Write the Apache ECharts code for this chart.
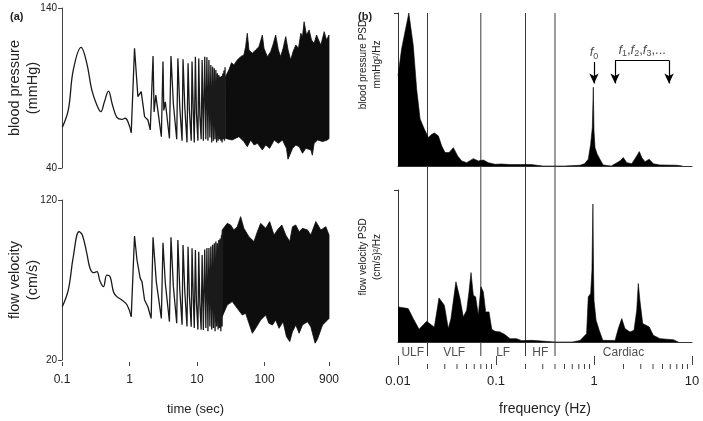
<!DOCTYPE html>
<html>
<head>
<meta charset="utf-8">
<script src="https://cdn.jsdelivr.net/npm/echarts@6.0.0/dist/echarts.min.js"></script>
<style>
  html, body { margin: 0; padding: 0; background: #fff; }
  #chart { width: 703px; height: 421px; }
</style>
</head>
<body>
<div id="chart"></div>
<script>
// (a) time traces, log time axis
// blood pressure, slow part before the beats
var bpSlowTime = [0.101,0.124,0.147,0.192,0.233,0.276,0.328,0.376,0.425,0.487,0.559,0.65,0.771,0.863,0.966,1.06];
var bpSlowValue = [65.4,76.3,101.3,115.4,105.4,88.8,79.4,75.2,81.4,88.1,79.4,71.7,70.4,71.1,68,62.1];
// blood pressure, single beats up to ~26 s
var bpTime = [1.06,1.186,1.33,1.49,1.67,1.87,2.03,
  2.23,2.31,2.45,2.96, 3.13,3.22,3.39,3.9, 4.11,4.46,5.0, 5.2,5.55,6.0, 6.2,6.6,7.1, 7.36,7.7,8.2, 8.43,8.8,9.1, 9.45,9.8,10.3,
  10.6,11.0,11.5, 11.9,12.4, 13,13.5, 14,14.5, 15,15.5, 16,16.5, 17,17.5, 18,18.5, 19,19.5, 20,20.5, 21,21.5, 22,22.5,
  23,23.5, 24,24.5, 25,25.5, 26];
var bpValue = [62.1,114.8,84.6,87.7,72.1,70,63.8,
  110,75,85.6,59.6, 106.5,76,81.4,58.5, 110,80,58, 108.5,78,57, 108,77,56, 105.4,76,57, 106.5,75,56, 109.6,74,57,
  108.5,73,58, 107.5,57, 109.6,58, 109.2,57, 107.5,59, 104.4,56, 103.3,57, 102.3,58, 101.3,56, 99.2,57, 98.1,58,
  97,57, 97.5,56, 99,58, 101,57, 103];
// blood pressure, envelope of the dense part
var bpUpperTime = [26.4,29.6,32.4,35.1,39.4,44.2,49.4,52.4,55.5,58.7,65.9,73.8,82.6,92.7,98,110,123,133,146,160,173,188,206,223,
  244,264,290,318,344,364,385,418,457,496,542,589,630,682,764,828,900];
var bpUpper = [97.1,101.3,105.8,104.4,107.5,109.6,110.6,115.8,124.2,113.8,111.7,113.8,115.8,123.1,114.8,109.6,112.7,116.9,123.1,113.8,
  109.6,114.8,122.1,113.8,107.5,112.7,116.9,114.8,124.2,122.1,131.4,123.1,126.3,120,117.9,123.1,120,116.9,125.2,120,123.1];
var bpLowerTime = [26.4,33,41.7,49.4,55.5,62.3,70,78.5,92.7,104,119,139,160,184,211,222,231,260,290,326,364,409,485,510,542,610,722,855,900];
var bpLower = [58.5,57.5,59.6,56.5,53.3,57.5,54.4,55.4,51.3,54.4,52.3,57.5,55.4,57.5,52.3,45.5,47.1,52.3,54.4,53.3,49.2,52.3,51.3,48,
  55.4,57.5,56.5,57.5,58.5];

// flow velocity, slow part before the beats
var fvSlowTime = [0.101,0.124,0.147,0.179,0.2,0.233,0.26,0.292,0.328,0.367,0.411,0.461,0.516,0.578,0.649,0.77,0.92,1.06];
var fvSlowValue = [53.3,63.8,84.6,100.2,98.1,86.7,77.3,74.6,75.2,69,65.8,73.1,72.1,62.7,59.6,57.5,54.4,47.1];
// flow velocity, single beats up to ~24 s
var fvTime = [1.06,1.186,1.29,1.44,1.53,1.67,1.87,2.09,
  2.23,2.49,2.96, 3.13,3.39,3.9, 4.11,4.46,5.0, 5.2,5.55,6.0, 6.2,6.6,7.1, 7.36,7.7,8.2, 8.43,8.8,9.1, 9.45,9.8,10.3,
  10.6,11.0,11.5, 11.9,12.4, 13,13.5, 14,14.5, 15,15.5, 16,16.5, 17,17.5, 18,18.5, 19,19.5, 20,20.5, 21,21.5, 22,22.5, 23,23.5, 24];
var fvValue = [47.1,97.5,82.5,71,69,57.5,53.3,46,
  96.7,69,46, 93.3,68,44, 96.7,66,43, 95,64,42, 91.9,62,41, 90.8,60,40.8, 89.8,58,40, 88.8,56,39,
  87.7,55,39, 85.6,38.8, 89,40, 90,38, 90,41, 91,39, 92,40, 93,38, 94,41, 93,39, 95,40, 96,38, 98,41, 100,40, 101];
var fvUpperTime = [23.6,28,31.4,35.1,39.4,44.2,49.4,58.7,69.7,78.2,87.5,104,119,138,155,180,206,236,259,290,325,364,432,484,574,682,809,900];
var fvUpper = [101.3,105.4,104.4,101.3,103.3,109.6,102.3,97.1,94,100.2,105.4,102.3,106.5,98.1,101.3,104.4,98.1,94,103.3,104.4,
  100.2,102.3,101.3,98.1,106.5,101.3,103.3,98.1];
var fvLowerTime = [18.8,23.6,28,33.2,39.4,46.8,52.4,58.7,65.9,73.8,87.5,104,116,131,146,164,188,211,236,259,290,325,364,432,484,560,608,722,857,900];
var fvLower = [43.9,47.1,54.4,56.5,52.3,48.1,49.2,42.9,36.7,39.8,45,48.1,42.9,41.9,45,39.8,43.9,34.6,31.5,37.7,41.9,36.7,41.9,43.9,
  40.8,30.5,33,41.9,45,46];

// (b) power spectra, log frequency axis
var psdBpFreq = [0.01,0.0109,0.0129,0.0143,0.0155,0.0168,0.0186,0.0204,0.0218,0.0235,0.0258,0.0279,0.0302,0.0332,0.0367,0.0406,0.0447,
  0.0502,0.0587,0.066,0.0742,0.0835,0.0977,0.114,0.139,0.169,0.23,0.3,0.5,0.72,0.8,0.874,0.925,0.961,0.984,1.0,1.024,1.08,1.15,1.24,
  1.5,1.84,1.99,2.16,2.43,2.73,2.9,3.07,3.31,3.66,4.03,4.71,6.98,8];
var psdBp = [59,76.8,100,79,50.4,30.7,24,18.6,20.5,21.5,19.7,13.2,8.8,8.8,12,6.6,3.3,2.2,4.8,3.3,3.9,2.2,1.1,1.3,0.9,0.9,0.9,0,0,0.5,
  1.5,4.4,14.3,25,51.5,23,12,7.7,4.4,0.7,0,3.3,5.5,2.2,1.5,6.6,9.4,5.5,2.8,4.4,1.5,0.7,0.5,0];
var psdFvFreq = [0.01,0.0127,0.0143,0.0164,0.0196,0.0221,0.0235,0.0262,0.0297,0.0326,0.0347,0.039,0.0429,0.0464,0.0502,0.053,0.0556,
  0.0587,0.062,0.066,0.0702,0.0742,0.0785,0.0849,0.0905,0.0977,0.11,0.123,0.139,0.162,0.183,0.23,0.316,0.4,0.6,0.72,0.84,0.874,
  0.925,0.953,0.975,0.99,1.0,1.05,1.13,1.23,1.64,1.77,1.92,2.07,2.33,2.56,2.73,2.83,2.94,3.14,3.4,3.66,4.03,4.71,6.45,7.25];
var psdFv = [23.1,22,15.4,8.4,13.6,11,9.9,29,24.2,8.8,15.4,39.6,28.6,16.5,20.9,33,45.7,30.8,29.7,17.6,36.3,33,19.8,19.8,8.4,7,6.6,
  4.9,2.2,2.2,0.9,1.1,0.5,0,0,1,5.5,29.7,31.9,47.3,90.8,45,27.5,14.3,7.7,1.1,1,8.8,15.4,8.8,6.6,7.7,20.9,38.5,27.5,12.1,11,9.9,
  4.4,2.2,1.5,0];

// band edges (Hz) and names
var bandEdges = [0.01, 0.02, 0.07, 0.2, 0.4, 10];
var bandNames = ['ULF', 'VLF', 'LF', 'HF', 'Cardiac'];

var FONT = "'Liberation Sans', Arial, Helvetica, sans-serif";
var INK = '#222';
var AXIS = '#444';

function zip(a, b) { return a.map(function (v, i) { return [v, b[i]]; }); }
function fmt(v) { return String(Number(v.toPrecision(3))); }

function traceSeries(idx, t, v, smooth) {
  return { type: 'line', xAxisIndex: idx, yAxisIndex: idx, data: zip(t, v), showSymbol: false, silent: true,
    smooth: smooth, lineStyle: { color: '#1a1a1a', width: 1.3 } };
}

// filled band between upper and lower envelope
function bandSeries(idx, upT, upV, loT, loV) {
  return {
    type: 'custom', xAxisIndex: idx, yAxisIndex: idx, silent: true,
    data: [[upT[0], upV[0]]],
    renderItem: function (params, api) {
      var pts = [];
      upT.forEach(function (t, i) { pts.push(api.coord([t, upV[i]])); });
      for (var i = loT.length - 1; i >= 0; i--) pts.push(api.coord([loT[i], loV[i]]));
      return { type: 'polygon', shape: { points: pts }, style: { fill: '#0d0d0d', stroke: '#0d0d0d', lineWidth: 0.8 } };
    }
  };
}

var minorTicks = [];
[0.01, 0.1, 1].forEach(function (d) { for (var k = 2; k <= 9; k++) minorTicks.push(+(d * k).toPrecision(2)); });

var chart = echarts.init(document.getElementById('chart'));

var option = {
  animation: false,
  textStyle: { fontFamily: FONT, color: INK },
  title: [
    { text: '(a)', left: 5, top: 6, textStyle: { fontFamily: FONT, fontSize: 11, fontWeight: 'bold', color: INK } },
    { text: '(b)', left: 353, top: 6, textStyle: { fontFamily: FONT, fontSize: 11, fontWeight: 'bold', color: INK } }
  ],
  grid: [
    { left: 62, top: 8, width: 267, height: 160 },
    { left: 62, top: 200, width: 267, height: 160 },
    { left: 398, top: 13, width: 294, height: 153 },
    { left: 398, top: 190, width: 294, height: 152 },
    { left: 398, top: 13, width: 294, height: 347 }
  ],
  xAxis: [
    { type: 'log', gridIndex: 0, min: 0.1, max: 900, show: false },
    { type: 'log', gridIndex: 1, min: 0.1, max: 900, offset: 2,
      axisLine: { show: false }, splitLine: { show: false },
      axisTick: { show: true, length: 4, lineStyle: { color: AXIS } },
      axisLabel: { fontSize: 12, margin: 12, color: INK, fontFamily: FONT, formatter: fmt },
      name: 'time (sec)', nameLocation: 'middle', nameGap: 41,
      nameTextStyle: { fontSize: 13, color: INK, fontFamily: FONT } },
    { type: 'log', gridIndex: 2, min: 0.01, max: 10,
      axisLine: { show: true, lineStyle: { color: '#333', width: 1 } },
      axisTick: { show: false }, axisLabel: { show: false }, splitLine: { show: false } },
    { type: 'log', gridIndex: 3, min: 0.01, max: 10,
      axisLine: { show: true, lineStyle: { color: '#333', width: 1 } },
      axisTick: { show: false }, axisLabel: { show: false }, splitLine: { show: false } },
    { type: 'log', gridIndex: 4, min: 0.01, max: 10, offset: 8,
      axisLine: { show: false }, splitLine: { show: false },
      axisTick: { show: true, length: 9, lineStyle: { color: AXIS } },
      axisLabel: { fontSize: 13, margin: 11, color: INK, fontFamily: FONT, formatter: fmt },
      name: 'frequency (Hz)', nameLocation: 'middle', nameGap: 38,
      nameTextStyle: { fontSize: 14, color: INK, fontFamily: FONT } }
  ],
  yAxis: [
    { type: 'value', gridIndex: 0, min: 40, max: 140, splitLine: { show: false },
      axisLine: { show: true, lineStyle: { color: AXIS } },
      axisTick: { show: true, length: 4, customValues: [40, 140], lineStyle: { color: AXIS } },
      axisLabel: { customValues: [40, 140], fontSize: 10, margin: 5, color: INK, fontFamily: FONT },
      name: 'blood pressure\n(mmHg)', nameLocation: 'middle', nameGap: 20, nameMoveOverlap: false,
      nameTextStyle: { fontSize: 14.5, lineHeight: 18, color: INK, fontFamily: FONT } },
    { type: 'value', gridIndex: 1, min: 20, max: 120, splitLine: { show: false },
      axisLine: { show: true, lineStyle: { color: AXIS } },
      axisTick: { show: true, length: 4, customValues: [20, 120], lineStyle: { color: AXIS } },
      axisLabel: { customValues: [20, 120], fontSize: 10, margin: 5, color: INK, fontFamily: FONT },
      name: 'flow velocity\n(cm/s)', nameLocation: 'middle', nameGap: 20, nameMoveOverlap: false,
      nameTextStyle: { fontSize: 14.5, lineHeight: 18, color: INK, fontFamily: FONT } },
    { type: 'value', gridIndex: 2, min: 0, max: 100, splitLine: { show: false },
      axisLine: { show: true, lineStyle: { color: '#333' } },
      axisTick: { show: true, length: 4, customValues: [100], lineStyle: { color: '#333' } },
      axisLabel: { show: false },
      name: 'blood pressure PSD\nmmHg\u00b2/Hz', nameLocation: 'middle', nameGap: 14,
      nameTextStyle: { fontSize: 10, lineHeight: 14, color: INK, fontFamily: FONT, padding: [0, 0, 0, 50] } },
    { type: 'value', gridIndex: 3, min: 0, max: 100, splitLine: { show: false },
      axisLine: { show: true, lineStyle: { color: '#333' } },
      axisTick: { show: true, length: 4, customValues: [100], lineStyle: { color: '#333' } },
      axisLabel: { show: false },
      name: 'flow velocity PSD\n(cm/s)\u00b2/Hz', nameLocation: 'middle', nameGap: 14,
      nameTextStyle: { fontSize: 10, lineHeight: 14, color: INK, fontFamily: FONT, padding: [0, 0, 0, 18] } },
    { type: 'value', gridIndex: 4, min: 0, max: 1, show: false }
  ],
  series: [
    // blood pressure trace
    traceSeries(0, bpSlowTime, bpSlowValue, 0.4),
    traceSeries(0, bpTime, bpValue, false),
    bandSeries(0, bpUpperTime, bpUpper, bpLowerTime, bpLower),
    // flow velocity trace
    traceSeries(1, fvSlowTime, fvSlowValue, 0.4),
    traceSeries(1, fvTime, fvValue, false),
    bandSeries(1, fvUpperTime, fvUpper, fvLowerTime, fvLower),
    // blood pressure PSD + f0 / harmonics arrows
    { type: 'line', xAxisIndex: 2, yAxisIndex: 2, data: zip(psdBpFreq, psdBp), showSymbol: false, silent: true,
      lineStyle: { color: '#000', width: 0.6 }, areaStyle: { color: '#000', opacity: 1 },
      markLine: {
        silent: true, symbol: ['none', 'arrow'], symbolSize: [7, 10], label: { show: false },
        lineStyle: { color: '#000', width: 1.2, type: 'solid' },
        data: [
          [{ coord: [1, 68] }, { coord: [1, 54] }],
          [{ coord: [1.64, 69], symbol: 'none' }, { coord: [5.83, 69], symbol: 'none' }],
          [{ coord: [1.64, 69] }, { coord: [1.64, 54] }],
          [{ coord: [5.83, 69] }, { coord: [5.83, 54] }]
        ]
      } },
    { type: 'scatter', xAxisIndex: 2, yAxisIndex: 2, symbolSize: 0, silent: true,
      data: [[1.0, 74, 'f0'], [3.1, 75.5, 'fn']],
      label: { show: true, position: 'inside', color: INK, fontFamily: FONT,
        formatter: function (p) {
          return p.data[2] === 'f0' ? '{i|f}{s|0}'
            : '{i|f}{s|1}{n|,}{i|f}{s|2}{n|,}{i|f}{s|3}{n|,...}';
        },
        rich: {
          i: { fontSize: 13, fontStyle: 'italic', fontFamily: FONT, color: INK },
          s: { fontSize: 9, fontFamily: FONT, color: INK, padding: [7, 0, 0, 0] },
          n: { fontSize: 13, fontFamily: FONT, color: INK }
        } } },
    // flow velocity PSD
    { type: 'line', xAxisIndex: 3, yAxisIndex: 3, data: zip(psdFvFreq, psdFv), showSymbol: false, silent: true,
      lineStyle: { color: '#000', width: 0.6 }, areaStyle: { color: '#000', opacity: 1 } },
    // band boundaries
    { type: 'custom', xAxisIndex: 4, yAxisIndex: 4, silent: true,
      data: bandEdges.slice(1, -1).map(function (f) { return [f, 0]; }),
      renderItem: function (params, api) {
        var a = api.coord([api.value(0), 0]), b = api.coord([api.value(0), 1]);
        return { type: 'line', shape: { x1: a[0], y1: a[1], x2: b[0], y2: b[1] }, style: { stroke: '#3a3a3a', lineWidth: 1 } };
      } },
    // band names
    { type: 'scatter', xAxisIndex: 4, yAxisIndex: 4, symbolSize: 0, silent: true,
      data: bandNames.map(function (n, i) { return [Math.sqrt(bandEdges[i] * bandEdges[i + 1]), 0, n]; }),
      label: { show: true, position: 'inside', offset: [0, -3], fontSize: 12, color: INK, fontFamily: FONT,
        formatter: function (p) { return p.data[2]; } } },
    // minor ticks of the frequency axis
    { type: 'custom', xAxisIndex: 4, yAxisIndex: 4, silent: true,
      data: minorTicks.map(function (f) { return [f, 0]; }),
      renderItem: function (params, api) {
        var a = api.coord([api.value(0), 0]);
        return { type: 'line', shape: { x1: a[0], y1: a[1] + 8, x2: a[0], y2: a[1] + 13 }, style: { stroke: AXIS, lineWidth: 1 } };
      } }
  ]
};

chart.setOption(option);
</script>
</body>
</html>
